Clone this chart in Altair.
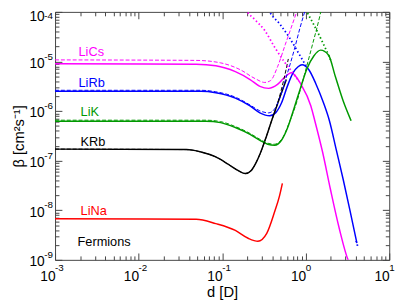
import altair as alt
import pandas as pd

# ---- curves: log10(d [D]) and log10(beta [cm^2 s^-1]) ----
lics_solid_logd = [-3, -1.311, -1.076, -0.842, -0.666, -0.548, -0.443, -0.337, -0.255, -0.173, -0.056, 0.062, 0.109, 0.202, 0.296, 0.402, 0.507, 0.52]
lics_solid_logb = [-5.047, -5.057, -5.087, -5.206, -5.364, -5.502, -5.542, -5.462, -5.324, -5.225, -5.462, -5.897, -6.194, -6.826, -7.577, -8.368, -9.0, -9.05]
lics_dash_logd = [-3, -1.311, -1.018, -0.783, -0.607, -0.490, -0.419, -0.337, -0.243, -0.161, -0.091]
lics_dash_logb = [-4.968, -4.978, -5.028, -5.166, -5.344, -5.423, -5.383, -5.107, -4.652, -4.257, -3.921]
lics_dot_logd = [-0.748, -0.701, -0.607, -0.490, -0.372, -0.255, -0.138, -0.079]
lics_dot_logb = [-3.881, -4.0, -4.158, -4.375, -4.711, -5.008, -5.265, -5.403]

lirb_solid_logd = [-3, -1.252, -1.076, -0.842, -0.666, -0.548, -0.431, -0.361, -0.290, -0.220, -0.150, -0.091, -0.044, 0.038, 0.120, 0.214, 0.284, 0.367, 0.449, 0.531, 0.613]
lirb_solid_logb = [-5.601, -5.601, -5.630, -5.739, -5.897, -6.036, -6.095, -6.036, -5.838, -5.502, -5.225, -5.107, -5.067, -5.166, -5.443, -5.838, -6.194, -6.787, -7.379, -8.012, -8.664]
lirb_dash_logd = [-3, -1.252, -1.076, -0.842, -0.666, -0.548, -0.443, -0.372, -0.302, -0.220, -0.138, -0.067, -0.009]
lirb_dash_logb = [-5.581, -5.581, -5.611, -5.719, -5.877, -5.996, -6.036, -5.957, -5.700, -5.245, -4.771, -4.316, -3.980]
lirb_dot_logd = [-0.466, -0.431, -0.314, -0.197, -0.079, 0.003]
lirb_dot_logb = [-3.881, -4.0, -4.237, -4.514, -4.850, -5.087]
lirb_tail_logd = [0.600, 0.613, 0.625]
lirb_tail_logb = [-8.62, -8.664, -8.76]

lik_solid_logd = [-3, -1.194, -1.018, -0.842, -0.666, -0.548, -0.455, -0.372, -0.290, -0.220, -0.138, -0.056, 0.015, 0.097, 0.179, 0.273, 0.355, 0.449, 0.543]
lik_solid_logb = [-6.204, -6.204, -6.233, -6.332, -6.470, -6.589, -6.668, -6.688, -6.589, -6.352, -5.937, -5.502, -5.146, -4.889, -4.771, -4.870, -5.304, -5.798, -6.194]
lik_dash_logd = [-3, -1.194, -1.018, -0.842, -0.666, -0.548, -0.455, -0.372, -0.279, -0.197, -0.103, -0.021, 0.073, 0.167, 0.191]
lik_dash_logb = [-6.184, -6.184, -6.213, -6.312, -6.451, -6.569, -6.648, -6.668, -6.549, -6.233, -5.798, -5.304, -4.711, -4.099, -3.921]
lik_dot_logd = [-0.021, 0.015, 0.097, 0.191, 0.273, 0.308]
lik_dot_logb = [-3.881, -4.0, -4.257, -4.573, -4.870, -5.008]

krb_solid_logd = [-3, -1.428, -1.252, -1.076, -0.935, -0.806, -0.724, -0.654, -0.595, -0.537, -0.478, -0.408, -0.325, -0.232]
krb_solid_logb = [-6.767, -6.777, -6.826, -6.925, -7.063, -7.202, -7.261, -7.202, -7.043, -6.826, -6.549, -6.194, -5.798, -5.364]
krb_dash_logd = [-3, -1.428, -1.252, -1.076, -0.935, -0.806, -0.724, -0.654, -0.595, -0.537, -0.478, -0.408, -0.325, -0.267, -0.208]
krb_dash_logb = [-6.767, -6.777, -6.826, -6.925, -7.063, -7.202, -7.261, -7.202, -7.043, -6.826, -6.549, -6.194, -5.779, -5.403, -4.949]

lina_solid_logd = [-3, -1.311, -1.076, -0.842, -0.689, -0.572, -0.466, -0.372, -0.314, -0.279]
lina_solid_logb = [-8.170, -8.180, -8.269, -8.407, -8.565, -8.625, -8.466, -8.032, -7.715, -7.458]

molecules = ["LiCs", "LiRb", "LiK", "KRb", "LiNa"]
colors = ["#ff00ff", "#0000ff", "#009900", "#000000", "#ff0000"]

label_text = ["LiCs", "LiRb", "LiK", "KRb", "LiNa", "Fermions"]
label_d = [1.91e-3, 1.91e-3, 2.02e-3, 2.02e-3, 2.02e-3, 1.86e-3]
label_beta = [1.55e-5, 3.6e-6, 9.6e-7, 2.35e-7, 9.7e-9, 2.27e-9]
label_color = ["#ff00ff", "#0000ff", "#009900", "#000000", "#ff0000", "#000000"]

x_decades = [1e-3, 1e-2, 1e-1, 1, 10]
x_exponents = ["-3", "-2", "-1", "0", "1"]
y_decades = [1e-9, 1e-8, 1e-7, 1e-6, 1e-5]
y_exponents = ["-9", "-8", "-7", "-6", "-5"]
y_top_decade = [1e-4]
y_top_exponent = ["-4"]
x_minor = [m * 10.0 ** e for e in range(-3, 1) for m in range(2, 10)]
y_minor = [m * 10.0 ** e for e in range(-9, -4) for m in range(2, 10)]

curves = [
    ("LiCs", "solid", lics_solid_logd, lics_solid_logb),
    ("LiCs", "dashed", lics_dash_logd, lics_dash_logb),
    ("LiCs", "dotted", lics_dot_logd, lics_dot_logb),
    ("LiRb", "solid", lirb_solid_logd, lirb_solid_logb),
    ("LiRb", "dashed", lirb_dash_logd, lirb_dash_logb),
    ("LiRb", "dotted", lirb_dot_logd, lirb_dot_logb),
    ("LiRb", "tail", lirb_tail_logd, lirb_tail_logb),
    ("LiK", "solid", lik_solid_logd, lik_solid_logb),
    ("LiK", "dashed", lik_dash_logd, lik_dash_logb),
    ("LiK", "dotted", lik_dot_logd, lik_dot_logb),
    ("KRb", "dashed", krb_dash_logd, krb_dash_logb),
    ("KRb", "solid", krb_solid_logd, krb_solid_logb),
    ("LiNa", "solid", lina_solid_logd, lina_solid_logb),
]

rows = []
for mol, style, ld, lb in curves:
    for i, (a, b) in enumerate(zip(ld, lb)):
        rows.append({"molecule": mol, "style": "dotted" if style == "tail" else style,
                     "curve": mol + "-" + style,
                     "order": i, "d": 10.0 ** a, "beta": 10.0 ** b})
df = pd.DataFrame(rows)

labels_df = pd.DataFrame({"text": label_text, "d": label_d, "beta": label_beta, "color": label_color})
xexp_df = pd.DataFrame({"d": x_decades, "beta": [1e-9] * len(x_decades), "text": x_exponents})
yexp_df = pd.DataFrame({"d": [1e-3] * len(y_decades), "beta": y_decades, "text": y_exponents})
ytop_df = pd.DataFrame({"d": [1e-3], "beta": y_top_decade, "text": y_top_exponent})

FONT = "Liberation Sans"
TICK = "#444444"
xs = alt.Scale(type="log", domain=[1e-3, 10])
ys = alt.Scale(type="log", domain=[1e-9, 1e-4])
cs = alt.Scale(domain=molecules, range=colors)

def ax(orient, values, size, labels=False, title=None, **kw):
    opts = dict(orient=orient, values=values, tickSize=size, offset=-size, domain=False,
                grid=False, tickColor=TICK, tickWidth=1, labels=labels, title=title)
    opts.update(kw)
    return alt.Axis(**opts)

x_bottom = ax("bottom", x_decades, 7, labels=True, title="d [D]", labelExpr="'10'",
              labelAlign="right", labelPadding=10, labelFontSize=14, labelFont=FONT,
              labelColor="black", labelFlush=False, labelOverlap=False,
              titleFont=FONT, titleFontSize=15, titleFontWeight="normal", titleColor="black",
              titlePadding=1)
y_left = ax("left", y_decades + y_top_decade, 7, labels=True, title="β [cm²s⁻¹]", labelExpr="'10'",
            labelPadding=11, labelFontSize=14, labelFont=FONT, labelColor="black",
            labelOffset={"condition": {"test": "datum.value > 5e-5", "value": 5}, "value": 2},
            labelFlush=False, labelOverlap=False,
            titleFont=FONT, titleFontSize=15, titleFontWeight="normal", titleColor="black",
            titlePadding=3)

base = alt.Chart(df)

solid = base.transform_filter(alt.datum.style == "solid").mark_line(
    clip=True, strokeWidth=1.5, interpolate="monotone").encode(
    x=alt.X("d:Q", scale=xs, axis=x_bottom),
    y=alt.Y("beta:Q", scale=ys, axis=y_left),
    color=alt.Color("molecule:N", scale=cs, legend=None),
    detail="curve:N", order="order:Q")

dashed = base.transform_filter(alt.datum.style == "dashed").mark_line(
    clip=True, strokeWidth=1.0, strokeDash=[4, 2], interpolate="monotone").encode(
    x=alt.X("d:Q", scale=xs, axis=ax("top", x_decades, 7)),
    y=alt.Y("beta:Q", scale=ys, axis=ax("right", y_decades + y_top_decade, 7)),
    color=alt.Color("molecule:N", scale=cs, legend=None),
    detail="curve:N", order="order:Q")

dotted = base.transform_filter(alt.datum.style == "dotted").mark_line(
    clip=True, strokeWidth=1.8, strokeDash=[1.5, 2.5], interpolate="monotone").encode(
    x=alt.X("d:Q", scale=xs, axis=ax("bottom", x_minor, 4)),
    y=alt.Y("beta:Q", scale=ys, axis=ax("left", y_minor, 4)),
    color=alt.Color("molecule:N", scale=cs, legend=None),
    detail="curve:N", order="order:Q")

labels = alt.Chart(labels_df).mark_text(align="left", baseline="middle", font=FONT, fontSize=13).encode(
    x=alt.X("d:Q", scale=xs, axis=ax("top", x_minor, 4)),
    y=alt.Y("beta:Q", scale=ys, axis=ax("right", y_minor, 4)),
    text="text:N",
    color=alt.Color("color:N", scale=None))

xexp = alt.Chart(xexp_df).mark_text(align="left", baseline="middle", font=FONT, fontSize=10,
                                    dx=0, dy=8, color="black").encode(
    x=alt.X("d:Q", scale=xs, axis=None),
    y=alt.Y("beta:Q", scale=ys, axis=None),
    text="text:N")

yexp = alt.Chart(yexp_df).mark_text(align="left", baseline="middle", font=FONT, fontSize=10,
                                    dx=-11, dy=-5, color="black").encode(
    x=alt.X("d:Q", scale=xs, axis=None),
    y=alt.Y("beta:Q", scale=ys, axis=None),
    text="text:N")

ytop = alt.Chart(ytop_df).mark_text(align="left", baseline="middle", font=FONT, fontSize=10,
                                    dx=-11, dy=4, color="black").encode(
    x=alt.X("d:Q", scale=xs, axis=None),
    y=alt.Y("beta:Q", scale=ys, axis=None),
    text="text:N")

chart = alt.layer(solid, dashed, dotted, labels, xexp, yexp, ytop).resolve_axis(
    x="independent", y="independent").properties(
    width=341, height=253, autosize="none",
    padding={"left": 48, "top": 1, "right": 12, "bottom": 38}).configure_view(
    stroke=TICK, strokeWidth=1)

chart.save("out.html", embed_options={"renderer": "svg", "actions": False})
